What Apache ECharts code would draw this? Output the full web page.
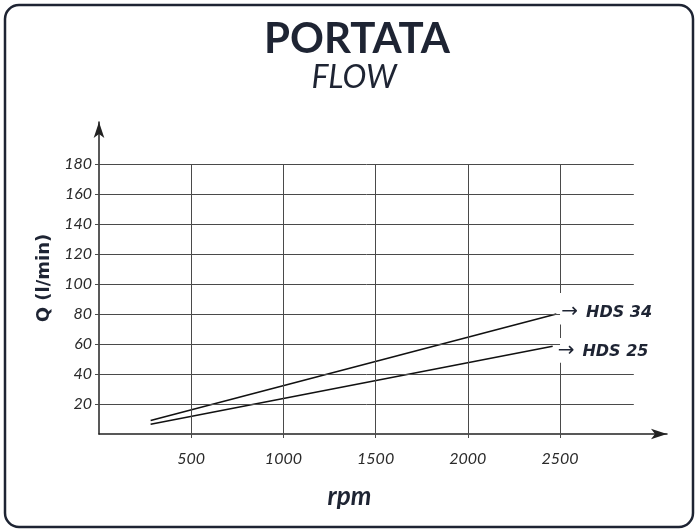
<!DOCTYPE html>
<html>
<head>
<meta charset="utf-8">
<script src="https://cdn.jsdelivr.net/npm/echarts@6/dist/echarts.min.js"></script>
<style>
  html, body { margin: 0; padding: 0; background: #fff; }
  #chart { width: 698px; height: 532px; }
</style>
</head>
<body>
<div id="chart"></div>
<script>
var yTicks = [20, 40, 60, 80, 100, 120, 140, 160, 180];
var xTicks = [500, 1000, 1500, 2000, 2500];
var hds34 = [[280, 9], [2480, 80]];
var hds25 = [[280, 6.5], [2460, 58.5]];
// the 2500 gridline is broken where the labels point at it
var gap2500 = [[0, 47.5], [64, 73], [94, 180]];
// gridlines that stop at 2500 because the labels sit behind them
var shortRows = [60, 80];

var ink = '#1e2433';
var gridColor = '#4a4a4a';

var gridLines = [];
yTicks.forEach(function(v) {
  var end = shortRows.indexOf(v) >= 0 ? 2500 : 2900;
  gridLines.push([{ coord: [0, v] }, { coord: [end, v] }]);
});
xTicks.forEach(function(v) {
  if (v === 2500) {
    gap2500.forEach(function(s) {
      gridLines.push([{ coord: [v, s[0]] }, { coord: [v, s[1]] }]);
    });
  } else {
    gridLines.push([{ coord: [v, 0] }, { coord: [v, 180] }]);
  }
});

function endLabel(dy) {
  return {
    show: true,
    distance: 5,
    offset: [0, dy],
    formatter: '{arr|→}{t|{a}}',
    rich: {
      arr: { fontSize: 20, color: ink, fontFamily: 'DejaVu Sans', padding: [0, 8, 2, 0] },
      t: { fontSize: 16, fontWeight: 'bold', fontStyle: 'italic', color: ink, fontFamily: 'DejaVu Sans' }
    }
  };
}

var chart = echarts.init(document.getElementById('chart'));
chart.setOption({
  backgroundColor: '#fff',
  animation: false,
  title: [
    {
      text: 'PORTATA', left: 352, top: 13, textAlign: 'center',
      textStyle: { fontSize: 42, fontWeight: 'bold', color: ink, fontFamily: 'Lato' }
    },
    {
      text: 'FLOW', left: 349, top: 57, textAlign: 'center',
      textStyle: { fontSize: 32, fontWeight: 'normal', fontStyle: 'italic', color: ink, fontFamily: 'Lato' }
    }
  ],
  graphic: [{
    type: 'rect',
    shape: { x: 5, y: 5, width: 688, height: 522, r: 14 },
    style: { fill: 'none', stroke: ink, lineWidth: 2.5 },
    silent: true
  }],
  grid: { left: 99, right: 31, top: 122, bottom: 98, containLabel: false },
  xAxis: {
    type: 'value', min: 0, max: 3080,
    name: 'rpm', nameLocation: 'middle', nameGap: 50,
    nameTextStyle: { fontSize: 26, fontWeight: 'bold', fontStyle: 'italic', color: ink, fontFamily: 'Lato', padding: [0, 67, 0, 0] },
    axisLine: { show: true, symbol: ['none', 'arrow'], symbolSize: [8, 16], lineStyle: { color: '#222', width: 1.5 } },
    axisTick: { show: true, length: 4, customValues: xTicks, lineStyle: { color: gridColor } },
    axisLabel: {
      customValues: xTicks, margin: 17, fontSize: 16, fontStyle: 'italic', color: '#2a2a2a', fontFamily: 'Lato',
      formatter: function(v) { return String(v); }
    },
    splitLine: { show: false }
  },
  yAxis: {
    type: 'value', min: 0, max: 208,
    name: 'Q (l/min)', nameLocation: 'middle', nameGap: 46, nameRotate: 90,
    nameTextStyle: { fontSize: 18, fontWeight: 'bold', color: ink, fontFamily: 'DejaVu Sans' },
    axisLine: { show: true, symbol: ['none', 'arrow'], symbolSize: [8, 16], lineStyle: { color: '#222', width: 1.5 } },
    axisTick: { show: true, length: 4, customValues: yTicks, lineStyle: { color: gridColor } },
    axisLabel: { customValues: yTicks, margin: 7, fontSize: 16, fontStyle: 'italic', color: '#2a2a2a', fontFamily: 'Lato' },
    splitLine: { show: false }
  },
  series: [
    {
      name: 'grid', type: 'line', data: [], z: 1, silent: true,
      markLine: {
        silent: true, symbol: 'none', animation: false,
        label: { show: false },
        lineStyle: { color: gridColor, width: 1, type: 'solid' },
        data: gridLines
      }
    },
    {
      name: 'HDS 34', type: 'line', data: hds34, z: 3,
      showSymbol: false, symbol: 'none',
      lineStyle: { color: '#111', width: 1.6 },
      endLabel: endLabel(-1)
    },
    {
      name: 'HDS 25', type: 'line', data: hds25, z: 3,
      showSymbol: false, symbol: 'none',
      lineStyle: { color: '#111', width: 1.6 },
      endLabel: endLabel(6)
    }
  ]
});
</script>
</body>
</html>
